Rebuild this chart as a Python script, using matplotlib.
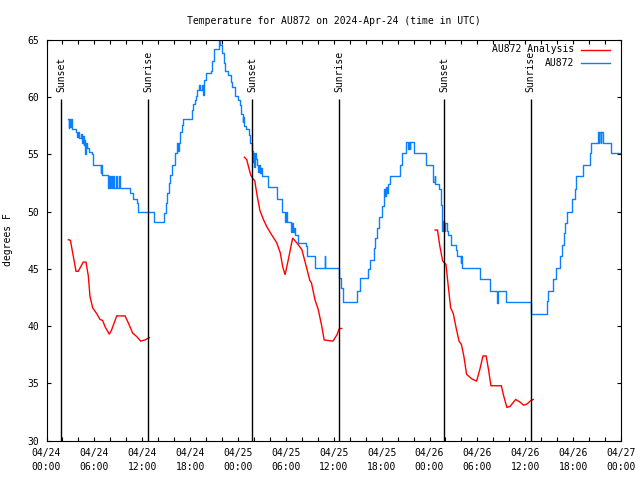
import matplotlib
matplotlib.use('Agg')
import matplotlib.pyplot as plt
from matplotlib.ticker import MultipleLocator, FixedLocator
from matplotlib.lines import Line2D

plt.rcParams['font.family'] = ['DejaVu Sans Mono', 'DejaVu Sans']
plt.rcParams['font.size'] = 7

title = 'Temperature for AU872 on 2024-Apr-24 (time in UTC)'
ylabel = 'degrees F'
xtick_hours = [0, 6, 12, 18, 24, 30, 36, 42, 48, 54, 60, 66, 72]
xtick_labels = ['04/24\n00:00', '04/24\n06:00', '04/24\n12:00', '04/24\n18:00',
                '04/25\n00:00', '04/25\n06:00', '04/25\n12:00', '04/25\n18:00',
                '04/26\n00:00', '04/26\n06:00', '04/26\n12:00', '04/26\n18:00',
                '04/27\n00:00']
ytick_values = [30, 35, 40, 45, 50, 55, 60, 65]

sun_hours = [1.85, 12.75, 25.8, 36.7, 49.85, 60.7]
sun_labels = ['Sunset', 'Sunrise', 'Sunset', 'Sunrise', 'Sunset', 'Sunrise']

# observed (hours since 04/24 00:00 UTC, deg F)
blue_t = [2.73, 2.80, 2.88, 2.98, 3.08, 3.20, 3.75, 3.85, 3.95, 4.10, 4.30, 4.45, 4.55, 4.65,
          4.75, 4.82, 4.90, 5.10, 5.30, 5.66, 5.79, 6.80, 6.88, 6.98, 7.75, 7.85, 7.95, 8.10,
          8.22, 8.38, 8.50, 8.65, 8.78, 9.05, 9.20, 10.46, 10.80, 11.38, 11.51, 13.51, 14.76,
          14.95, 15.10, 15.30, 15.50, 15.75, 16.10, 16.35, 16.45, 16.55, 16.75, 16.95, 17.15,
          18.20, 18.35, 18.55, 18.70, 18.90, 19.10, 19.30, 19.45, 19.60, 19.75, 19.95, 20.60,
          20.80, 21.00, 21.60, 21.75, 21.95, 22.25, 22.40, 22.80, 23.10, 23.25, 23.60, 24.00,
          24.20, 24.40, 24.60, 24.65, 24.72, 25.00, 25.40, 25.55, 25.70, 25.85, 25.92, 26.00,
          26.10, 26.25, 26.40, 26.55, 26.62, 26.75, 26.85, 27.05, 27.80, 28.85, 29.50, 29.90,
          29.98, 30.08, 30.70, 30.78, 30.88, 31.00, 31.10, 31.55, 32.50, 32.60, 33.65, 34.85,
          34.95, 36.60, 36.90, 37.20, 38.90, 39.30, 40.30, 40.50, 41.00, 41.20, 41.40, 41.70,
          42.00, 42.30, 42.45, 42.55, 42.70, 42.80, 43.05, 44.30, 44.60, 45.10, 45.30, 45.40,
          45.50, 45.60, 46.05, 47.55, 48.50, 48.65, 48.75, 49.20, 49.40, 49.60, 49.70, 49.80,
          49.90, 50.15, 50.30, 50.70, 51.30, 51.50, 51.90, 52.00, 52.10, 54.30, 55.60, 56.45,
          56.55, 57.65, 60.70, 62.70, 62.90, 63.50, 63.90, 64.35, 64.60, 64.80, 65.00, 65.20,
          65.80, 66.20, 66.40, 67.20, 68.10, 68.30, 69.10, 69.20, 69.30, 69.45, 69.55, 69.70,
          70.80, 72.00]
blue_v = [58.1, 57.3, 58.1, 57.4, 58.1, 57.2, 57.0, 56.5, 57.0, 56.4, 56.8, 56.0, 56.6, 55.8,
          56.3, 55.0, 56.0, 55.6, 55.2, 55.0, 54.1, 53.4, 54.1, 53.2, 52.1, 53.1, 52.1, 53.1,
          52.1, 53.1, 52.1, 53.1, 52.1, 53.1, 52.1, 51.6, 51.1, 50.8, 50.0, 49.1, 49.9,
          50.8, 51.6, 52.5, 53.2, 54.1, 55.1, 56.0, 55.3, 56.0, 57.0, 57.6, 58.1,
          58.9, 59.4, 59.8, 60.1, 60.6, 61.1, 60.6, 61.1, 60.2, 61.5, 62.1, 62.3,
          63.2, 64.2, 65.0, 64.6, 63.9, 63.0, 62.3, 61.9, 61.3, 60.9, 60.1, 59.8,
          59.3, 58.5, 57.8, 58.3, 57.5, 57.2, 56.7, 56.0, 55.3, 54.3, 55.1, 53.9,
          55.1, 54.6, 54.1, 53.5, 54.1, 53.4, 53.8, 53.1, 52.2, 51.1, 50.0, 49.1,
          50.0, 49.1, 48.2, 49.0, 48.2, 48.6, 48.0, 47.3, 47.0, 46.1, 45.1, 46.1,
          45.1, 44.2, 43.3, 42.1, 43.1, 44.2, 45.0, 45.8, 46.8, 47.7, 48.6, 49.5,
          50.5, 52.0, 51.4, 52.2, 51.6, 52.4, 53.1, 54.1, 55.1, 56.1, 55.5, 56.1,
          55.5, 56.1, 55.1, 54.1, 52.6, 53.1, 52.4, 52.0, 50.6, 48.3, 49.2, 48.3,
          49.0, 48.3, 48.0, 47.1, 46.7, 46.1, 45.5, 46.1, 45.1, 44.1, 43.1, 42.0,
          43.1, 42.1, 41.1, 42.2, 43.1, 44.1, 45.1, 46.1, 47.1, 48.1, 49.0, 50.0,
          51.1, 52.0, 53.1, 54.1, 55.1, 56.0, 57.0, 56.0, 57.0, 56.0, 57.0, 56.0,
          55.1, 55.1]

# analysis segments
red1_t = [2.73, 3.0, 3.36, 3.7, 3.99, 4.6, 4.95, 5.24, 5.45, 5.79, 6.29, 6.7, 7.04, 7.33,
          7.87, 8.17, 8.8, 9.84, 10.25, 10.8, 11.3, 11.8, 12.34, 12.9]
red1_v = [47.56, 47.5, 46.1, 44.8, 44.8, 45.6, 45.6, 44.4, 42.6, 41.6, 41.1, 40.6, 40.5, 39.97,
          39.3, 39.7, 40.9, 40.9, 40.3, 39.4, 39.1, 38.7, 38.8, 39.0]
red2_t = [24.8, 25.1, 25.3, 25.6, 25.85, 26.1, 26.4, 26.75, 27.2, 27.6, 28.2, 28.85, 29.3, 29.6,
          29.9, 30.3, 30.85, 31.35, 32.0, 32.6, 33.0, 33.2, 33.65, 34.06, 34.5, 34.8, 35.9, 36.4,
          36.7, 37.0]
red2_v = [54.76, 54.55, 53.97, 53.2, 52.9, 52.7, 51.4, 50.1, 49.3, 48.7, 48.0, 47.3, 46.4, 45.2,
          44.5, 45.8, 47.7, 47.3, 46.7, 45.1, 44.0, 43.8, 42.3, 41.45, 40.0, 38.8, 38.7, 39.25,
          39.8, 39.8]
red3_t = [48.7, 49.0, 49.3, 49.65, 50.06, 50.35, 50.65, 50.98, 51.3, 51.7, 52.0, 52.3, 52.65,
          53.3, 53.9, 54.3, 54.7, 55.1, 55.4, 55.7, 57.0, 57.3, 57.7, 58.1, 58.8, 59.3, 59.8,
          60.2, 60.7, 61.0]
red3_v = [48.4, 48.4, 46.98, 45.7, 45.4, 43.5, 41.6, 41.1, 39.98, 38.7, 38.4, 37.4, 35.8,
          35.4, 35.2, 36.2, 37.4, 37.4, 36.2, 34.8, 34.8, 33.9, 32.9, 33.0, 33.6, 33.4, 33.1,
          33.2, 33.5, 33.6]

RED = '#ff0000'
BLUE = '#0a80ff'

fig = plt.figure(figsize=(6.4, 4.8), dpi=100)
W, H = 640, 480
L, R, T, B = 46.5, 621, 40, 440.7
ax = fig.add_axes([L / W, 1 - B / H, (R - L) / W, (B - T) / H])

ax.set_xlim(0, 72)
ax.set_ylim(30, 65)

for t, v in ((red1_t, red1_v), (red2_t, red2_v), (red3_t, red3_v)):
    ax.plot(t, v, color=RED, lw=1.0, solid_joinstyle='miter')
ax.plot(blue_t, blue_v, color=BLUE, lw=1.0, drawstyle='steps-post')

ax.vlines(sun_hours, 30, 59.85, color='black', lw=1.0)
for t, lab in zip(sun_hours, sun_labels):
    ax.text(t, 60.5, lab, rotation=90, ha='center', va='bottom', fontsize=7)

ax.xaxis.set_major_locator(FixedLocator(xtick_hours))
ax.set_xticklabels(xtick_labels, linespacing=1.55)
ax.xaxis.set_minor_locator(MultipleLocator(2))
ax.set_yticks(ytick_values)
ax.tick_params(which='both', direction='in', top=True, right=True, length=3, width=0.8)
ax.tick_params(axis='x', pad=5)
ax.tick_params(axis='y', pad=5)
for s in ax.spines.values():
    s.set_linewidth(0.8)

fig.text((L + R) / 2 / W, 1 - 24 / H, title, ha='center', va='baseline', fontsize=7)
fig.text(8 / W, 0.5, ylabel, rotation=90, ha='center', va='center', fontsize=7)

# legend
for i, (lab, col) in enumerate((('AU872 Analysis', RED), ('AU872', BLUE))):
    yy = 1 - (49.5 + 13.5 * i) / H
    fig.text(574 / W, yy, lab, ha='right', va='center', fontsize=7)
    fig.add_artist(Line2D([581 / W, 610 / W], [yy, yy], color=col, lw=1.0))

fig.savefig('out.png', dpi=100)
